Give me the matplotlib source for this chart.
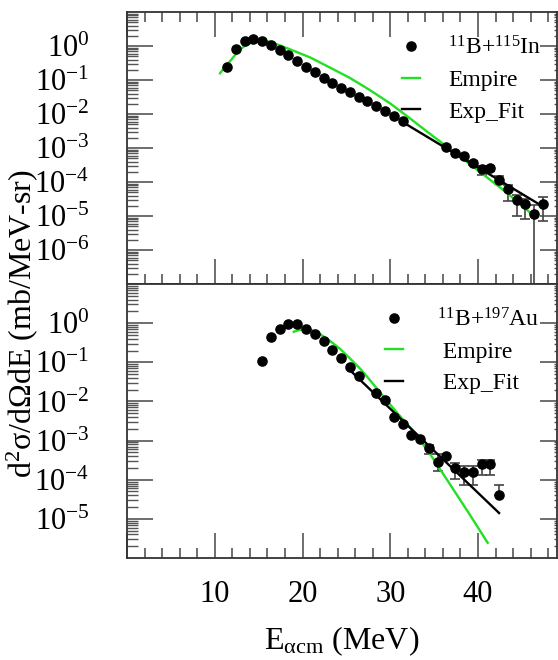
import numpy as np
import matplotlib
matplotlib.use('Agg')
import matplotlib.pyplot as plt
from matplotlib.ticker import FixedLocator, FixedFormatter, LogLocator, MultipleLocator, NullFormatter

plt.rcParams['font.family'] = ['Liberation Serif', 'DejaVu Serif']
plt.rcParams['mathtext.fontset'] = 'custom'
plt.rcParams['mathtext.rm'] = 'Liberation Serif'
plt.rcParams['mathtext.it'] = 'Liberation Serif:italic'
plt.rcParams['mathtext.bf'] = 'Liberation Serif:bold'

# ---------------- data: 11B + 115In ----------------
E_in = [11.4, 12.4, 13.4, 14.4, 15.4, 16.4, 17.4, 18.4, 19.4, 20.4, 21.4, 22.4,
        23.4, 24.4, 25.4, 26.4, 27.4, 28.4, 29.4, 30.4, 31.4,
        36.4, 37.4, 38.4, 39.4, 40.4, 41.4, 42.4, 43.4, 44.4, 45.4, 46.4, 47.4]
xs_in = [0.234, 0.832, 1.41, 1.62, 1.45, 1.07, 0.759, 0.537, 0.363, 0.245, 0.170, 0.117,
         0.0832, 0.0589, 0.0437, 0.0316, 0.0234, 0.0170, 0.0126, 0.00871, 0.00603,
         0.00105, 0.000692, 0.000589, 0.000372, 0.000234, 0.000257, 0.000115,
         6.31e-5, 3.02e-5, 2.29e-5, 1.15e-5, 2.29e-5]
err_lo_in = [0]*24 + [0.5e-4, 0.75e-4, 0.4e-4, 0.28e-4, 3.6e-5, 2.0e-5, 1.5e-5, 1.1499e-5, 1.6e-5]
err_hi_in = [0]*24 + [0.5e-4, 0.6e-4, 0.4e-4, 0.35e-4, 1.8e-5, 1.0e-5, 0.9e-5, 0.9e-5, 1.4e-5]

E_emp_in = [10.6, 11.2, 11.8, 12.4, 12.9, 13.5, 14.0, 14.6, 15.2, 15.8, 16.3, 17.4, 18.6,
            20.9, 23.1, 25.4, 27.7, 30.0, 32.0, 34.0, 36.4, 39.8, 43.2, 46.3]
emp_in = [0.158, 0.251, 0.372, 0.575, 0.794, 1.047, 1.202, 1.349, 1.396, 1.380, 1.334, 1.047, 0.794,
          0.457, 0.234, 0.115, 0.0501, 0.0204, 0.00832, 0.00331, 0.00112, 0.000240, 5.01e-5, 1.05e-5]

E_fit_in = [31.3, 46.8]
fit_in = [0.00603, 2.35e-5]

# ---------------- data: 11B + 197Au ----------------
E_au = [15.4, 16.4, 17.4, 18.4, 19.4, 20.4, 21.4, 22.4, 23.4, 24.4, 25.4, 26.4,
        28.4, 29.4, 30.4, 31.4, 32.4, 33.4, 34.4, 35.4, 36.4, 37.4, 38.4, 39.4, 40.4, 41.4, 42.4]
xs_au = [0.105, 0.44, 0.71, 0.93, 0.93, 0.72, 0.52, 0.34, 0.21, 0.129, 0.074, 0.044,
         0.0162, 0.0107, 0.0040, 0.0026, 0.00138, 0.00107, 6.3e-4, 2.9e-4, 4.0e-4,
         1.95e-4, 1.6e-4, 1.6e-4, 2.45e-4, 2.45e-4, 4.0e-5]
err_lo_au = [0]*18 + [1.8e-4, 1.2e-4, 0, 0.9e-4, 0.85e-4, 0.85e-4, 1.1e-4, 1.1e-4, 0]
err_hi_au = [0]*18 + [1.5e-4, 1.6e-4, 0, 0.8e-4, 0.6e-4, 0.6e-4, 0.65e-4, 0.65e-4, 3.4e-5]

E_emp_au = [19.0, 19.7, 20.5, 21.2, 22.0, 23.1, 24.3, 25.4, 26.6, 27.7, 28.8, 30.7, 33.0,
            34.7, 36.4, 38.8, 41.1]
emp_au = [0.603, 0.676, 0.708, 0.646, 0.525, 0.355, 0.219, 0.126, 0.0676, 0.0347, 0.0174,
          0.00537, 0.00138, 0.000398, 0.000105, 1.58e-5, 2.45e-6]

E_fit_au = [25.5, 42.4]
fit_au = [0.060, 1.41e-5]

labels_in = [r'$^{11}$B+$^{115}$In', 'Empire', 'Exp_Fit']
labels_au = [r'$^{11}$B+$^{197}$Au', ' Empire', ' Exp_Fit']
xticks = [10, 20, 30, 40]
yticks_in = [1e0, 1e-1, 1e-2, 1e-3, 1e-4, 1e-5, 1e-6]
yticks_au = [1e0, 1e-1, 1e-2, 1e-3, 1e-4, 1e-5]
ylab_in = [r'10$^{\mathregular{0}}$', r'10$^{\mathregular{-1}}$', r'10$^{\mathregular{-2}}$',
           r'10$^{\mathregular{-3}}$', r'10$^{\mathregular{-4}}$', r'10$^{\mathregular{-5}}$',
           r'10$^{\mathregular{-6}}$']
ylab_au = ylab_in[:6]

GREEN = '#22e022'
TICKC = '#555555'

fig = plt.figure(figsize=(5.58, 6.6), dpi=100)
W, H = 558.0, 660.0
ax1 = fig.add_axes([127/W, 1-284/H, 430/W, 272/H])
ax2 = fig.add_axes([127/W, 1-558/H, 430/W, 274/H])


def draw(ax, E, xs, lo, hi, Ee, emp, Ef, fit, ylim, yt, yl, top, bottomlabels):
    E = np.asarray(E); xs = np.asarray(xs); lo = np.asarray(lo); hi = np.asarray(hi)
    m = (lo > 0) | (hi > 0)
    ax.errorbar(E[m], xs[m], yerr=[lo[m], hi[m]], fmt='none', ecolor='#444444',
                elinewidth=1.2, capsize=3.8, capthick=1.2, zorder=2)
    h1, = ax.plot(E, xs, 'o', color='black', markersize=6.6, zorder=4, linestyle='none')
    h2, = ax.plot(Ee, emp, color=GREEN, lw=1.7, zorder=3)
    h3, = ax.plot(Ef, fit, color='black', lw=1.7, zorder=3)
    ax.set_yscale('log')
    ax.set_xlim(0, 49)
    ax.set_ylim(*ylim)
    ax.xaxis.set_major_locator(FixedLocator([0] + xticks))
    ax.xaxis.set_minor_locator(MultipleLocator(2))
    if bottomlabels:
        ax.set_xticklabels([''] + [str(t) for t in xticks])
    else:
        ax.xaxis.set_major_formatter(NullFormatter())
    ax.yaxis.set_major_locator(FixedLocator(yt))
    ax.yaxis.set_major_formatter(FixedFormatter(yl))
    ax.yaxis.set_minor_locator(LogLocator(base=10, subs=np.arange(2, 10), numticks=30))
    ax.yaxis.set_minor_formatter(NullFormatter())
    ax.tick_params(axis='x', which='major', direction='in', length=18, width=1.2,
                   color=TICKC, top=top, bottom=True, labelsize=22, pad=16)
    ax.tick_params(axis='x', which='minor', direction='in', length=7, width=1.2,
                   color=TICKC, top=top, bottom=True)
    ax.tick_params(axis='y', which='major', direction='in', length=19, width=1.2,
                   color=TICKC, left=True, right=False, labelsize=22, pad=27)
    ax.tick_params(axis='y', which='minor', direction='in', length=8, width=1.0,
                   color=TICKC, left=True, right=False)
    sec = ax.secondary_yaxis('right')
    sec.yaxis.set_major_locator(FixedLocator(yt))
    sec.yaxis.set_minor_locator(LogLocator(base=10, subs=np.arange(2, 10), numticks=30))
    sec.yaxis.set_major_formatter(NullFormatter())
    sec.yaxis.set_minor_formatter(NullFormatter())
    sec.tick_params(axis='y', which='major', direction='in', length=12, width=1.2, color=TICKC)
    sec.tick_params(axis='y', which='minor', direction='in', length=2.5, width=1.0, color=TICKC)
    sec.spines['right'].set_visible(False)
    for s in ax.spines.values():
        s.set_color('#333333')
        s.set_linewidth(1.3)
    return [h1, h2, h3]


hs1 = draw(ax1, E_in, xs_in, err_lo_in, err_hi_in, E_emp_in, emp_in, E_fit_in, fit_in,
           (1e-7, 1e1), yticks_in, ylab_in, True, False)
hs2 = draw(ax2, E_au, xs_au, err_lo_au, err_hi_au, E_emp_au, emp_au, E_fit_au, fit_au,
           (1e-6, 1e1), yticks_au, ylab_au, False, True)

ax1.legend(hs1, labels_in, loc='upper left', bbox_to_anchor=(0.64, 0.91), frameon=False,
           fontsize=17, handlelength=0.75, handletextpad=1.2, labelspacing=0.42,
           borderpad=0, borderaxespad=0, numpoints=1)
ax2.legend(hs2, labels_au, loc='upper left', bbox_to_anchor=(0.60, 0.912), frameon=False,
           fontsize=17, handlelength=0.75, handletextpad=1.45, labelspacing=0.42,
           borderpad=0, borderaxespad=0, numpoints=1)

fig.text(22/W, 1-324/H, r'd$^{\mathregular{2}}$σ/dΩdE (mb/MeV-sr)', rotation=90,
         ha='center', va='center', fontsize=23)
fig.text(342/W, 1-649/H, r'E$_{\mathregular{\alpha cm}}$ (MeV)', ha='center', va='baseline',
         fontsize=23)

fig.savefig('out.png', dpi=100)
